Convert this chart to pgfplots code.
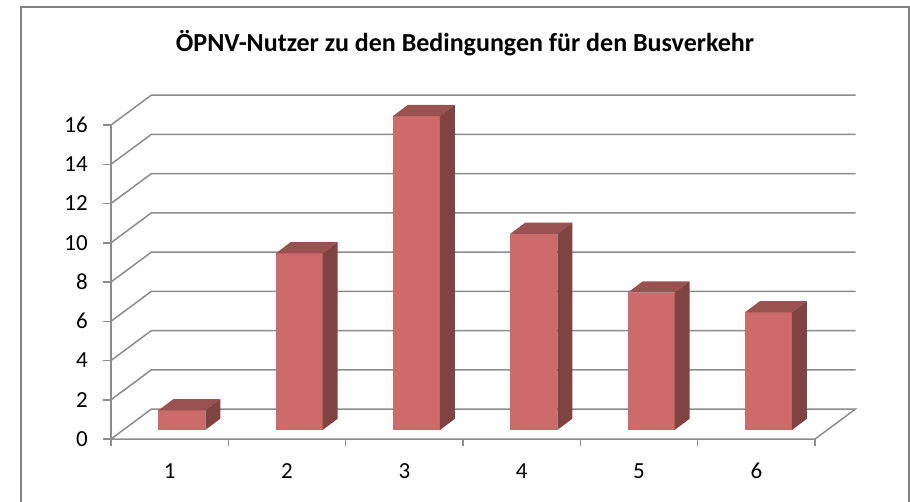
\documentclass[border=0pt]{standalone}
\usepackage{pgfplots}
\usepackage{pgfplotstable}
\pgfplotsset{compat=1.18}
\usepackage{fontspec}
\setmainfont{Carlito}
\definecolor{gridgray}{RGB}{140,140,140}
\definecolor{borderGray}{RGB}{130,130,130}
\definecolor{barfront}{RGB}{204,107,105}
\definecolor{bartop}{RGB}{153,82,80}
\definecolor{barside}{RGB}{127,67,65}
\pgfplotstableread{
idx v
0 1
1 9
2 16
3 10
4 7
5 6
}\data
\begin{document}
\begin{tikzpicture}
\path[use as bounding box] (0,0) rectangle (910pt,-501pt);
\draw[borderGray, line width=2pt] (21pt,-7pt) rectangle (909pt,-540pt);
\node[font=\fontsize{26}{30}\selectfont\bfseries, anchor=base] at (465pt,-51pt) {ÖPNV-Nutzer zu den Bedingungen für den Busverkehr};
\begin{axis}[
  at={(111pt,-439pt)}, anchor=south west,
  scale only axis, width=744.5pt, height=344pt,
  xmin=0, xmax=6.345, ymin=0, ymax=17.5287,
  clip=false,
  axis x line*=bottom, axis y line*=left,
  axis line style={draw=none},
  tick align=outside, major tick length=8pt,
  ytick={0,2,...,16}, ytick pos=left,
  ytick style={draw=gridgray, line width=1.5pt},
  xtick={0.5,1.5,...,5.5}, xticklabels={1,2,3,4,5,6},
  xtick style={draw=none},
  tick label style={font=\fontsize{23}{23}\selectfont},
  /pgf/number format/assume math mode=true,
  yticklabel style={anchor=east, inner sep=0pt, xshift=-15pt},
  xticklabel style={anchor=base, inner sep=0pt, yshift=-31pt},
  gl/.style={draw=gridgray, line width=1.5pt, mark=none},
]
\addplot[gl] coordinates {(6,0) (0,0) (0.345,1.5287) (6.345,1.5287) (6,0)};
\addplot[gl] coordinates {(0,2) (0.345,3.5287) (6.345,3.5287)};
\addplot[gl] coordinates {(0,4) (0.345,5.5287) (6.345,5.5287)};
\addplot[gl] coordinates {(0,6) (0.345,7.5287) (6.345,7.5287)};
\addplot[gl] coordinates {(0,8) (0.345,9.5287) (6.345,9.5287)};
\addplot[gl] coordinates {(0,10) (0.345,11.5287) (6.345,11.5287)};
\addplot[gl] coordinates {(0,12) (0.345,13.5287) (6.345,13.5287)};
\addplot[gl] coordinates {(0,14) (0.345,15.5287) (6.345,15.5287)};
\addplot[gl] coordinates {(0,16) (0.345,17.5287) (6.345,17.5287)};
\addplot[gl] coordinates {(0,0) (0,16)};
\addplot[gl, ycomb] coordinates {(0,-0.36) (1,-0.36) (2,-0.36) (3,-0.36) (4,-0.36) (5,-0.36) (6,-0.36)};
\pgfplotsinvokeforeach{0,...,5}{
  \pgfplotstablegetelem{#1}{v}\of\data
  \pgfmathsetmacro\bV{\pgfplotsretval}
  \pgfmathsetmacro\bXL{#1+0.5-0.2+0.1035}
  \pgfmathsetmacro\bXR{\bXL+0.4}
  \pgfmathsetmacro\bXRR{\bXR+0.1278}
  \pgfmathsetmacro\bXLL{\bXL+0.1278}
  \pgfmathsetmacro\bYB{0.4586}
  \pgfmathsetmacro\bYT{\bV+0.4586}
  \pgfmathsetmacro\bYBB{\bYB+0.5733}
  \pgfmathsetmacro\bYTT{\bYT+0.5733}
  \addplot[fill=barfront, draw=none] coordinates {(\bXL,\bYB) (\bXR,\bYB) (\bXR,\bYT) (\bXL,\bYT)} --cycle;
  \addplot[fill=bartop, draw=none] coordinates {(\bXL,\bYT) (\bXR,\bYT) (\bXRR,\bYTT) (\bXLL,\bYTT)} --cycle;
  \addplot[fill=barside, draw=none] coordinates {(\bXR,\bYB) (\bXRR,\bYBB) (\bXRR,\bYTT) (\bXR,\bYT)} --cycle;
}
\end{axis}
\end{tikzpicture}
\end{document}
